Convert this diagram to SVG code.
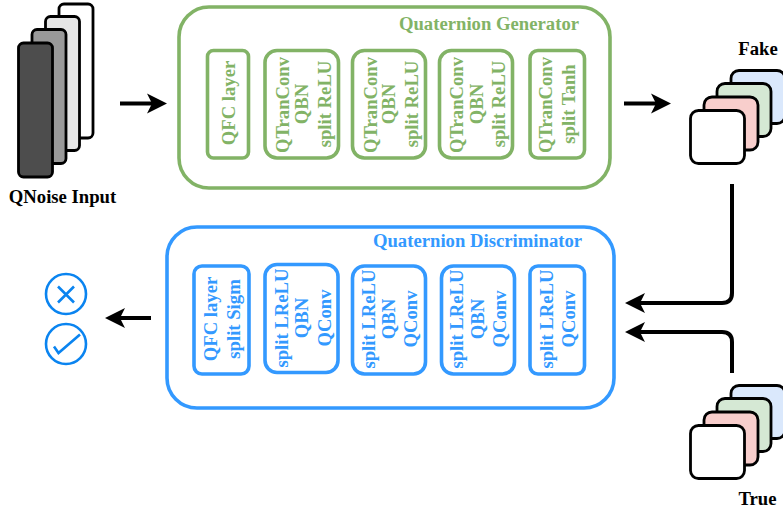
<svg xmlns="http://www.w3.org/2000/svg" width="783" height="512" viewBox="0 0 783 512">
<defs>
<style>
.k{stroke:#000;stroke-width:2.8}
.g{fill:#fff;stroke:#82b366;stroke-width:3.6}
.b{fill:#fff;stroke:#3399ff;stroke-width:3.6}
text{font-family:"Liberation Serif","Times New Roman",serif;font-weight:700;text-anchor:middle}
.gt{fill:#82b366;font-size:18.700px}
.bt{fill:#3399ff;font-size:18.700px}
.lb{fill:#000;font-size:18.700px}
.c{fill:none;stroke:#000;stroke-width:4}
.i{fill:none;stroke:#0a84f0;stroke-width:2.600}
</style>
<marker id="ah" markerUnits="userSpaceOnUse" markerWidth="22" markerHeight="22" refX="14" refY="11" orient="auto"><path d="M0 1 L20 11 L0 21 L5 11Z" fill="#000"/></marker>
</defs>
<g id="qnoise">
<rect class="k" x="59" y="4" width="34" height="134" rx="5" fill="#fff"/>
<rect class="k" x="45.500" y="16.500" width="34" height="134" rx="5" fill="#e6e6e6"/>
<rect class="k" x="32" y="29.500" width="34" height="134" rx="5" fill="#999"/>
<rect class="k" x="18.500" y="43" width="34" height="134" rx="5" fill="#4d4d4d"/>
<text class="lb" x="62.500" y="203">QNoise Input</text>
</g>
<g id="generator">
<rect class="g" x="179" y="7" width="431" height="181" rx="30"/>
<text class="gt" x="489" y="30">Quaternion Generator</text>
</g>
<g id="g1"><rect class="g" x="207.500" y="50.500" width="41" height="107.500" rx="6"/><text class="gt" transform="translate(228 103) rotate(-90)" y="7">QFC layer</text></g>
<g id="g2"><rect class="g" x="265" y="50.500" width="73.500" height="107.500" rx="12"/><text class="gt" transform="translate(301.500 104) rotate(-90)"><tspan x="-1" y="-13">QTranConv</tspan><tspan x="0" y="6">QBN</tspan><tspan x="0" y="29">split ReLU</tspan></text></g>
<g id="g3"><rect class="g" x="352.500" y="50.500" width="73" height="107.500" rx="12"/><text class="gt" transform="translate(389 104) rotate(-90)"><tspan x="-1" y="-12">QTranConv</tspan><tspan x="0" y="6">QBN</tspan><tspan x="0" y="29">split ReLU</tspan></text></g>
<g id="g4"><rect class="g" x="439.500" y="50.500" width="73" height="107.500" rx="12"/><text class="gt" transform="translate(476 104) rotate(-90)"><tspan x="-1" y="-13">QTranConv</tspan><tspan x="0" y="7">QBN</tspan><tspan x="0" y="29">split ReLU</tspan></text></g>
<g id="g5"><rect class="g" x="530" y="50.500" width="54.500" height="107.500" rx="8"/><text class="gt" transform="translate(557 104) rotate(-90)"><tspan x="-1" y="-5">QTranConv</tspan><tspan x="0" y="18">split Tanh</tspan></text></g>
<g id="fake">
<rect class="k" x="731" y="70.500" width="54" height="53" rx="8" fill="#dae8fc"/>
<rect class="k" x="717" y="83.500" width="54" height="53" rx="8" fill="#d5e8d4"/>
<rect class="k" x="704" y="97" width="54" height="53" rx="8" fill="#f8cecc"/>
<rect class="k" x="690.500" y="110.500" width="54" height="53" rx="8" fill="#fff"/>
<text class="lb" x="758" y="55">Fake</text>
</g>
<g id="discriminator">
<rect class="b" x="167" y="227" width="447" height="181" rx="30"/>
<text class="bt" x="477.500" y="247">Quaternion Discriminator</text>
</g>
<g id="d1"><rect class="b" x="194" y="266" width="55" height="108" rx="8"/><text class="bt" transform="translate(221 319) rotate(-90)"><tspan x="0" y="-4">QFC layer</tspan><tspan x="0" y="19">split Sigm</tspan></text></g>
<g id="d2"><rect class="b" x="265" y="264.500" width="73" height="108" rx="12"/><text class="bt" transform="translate(302 318) rotate(-90)"><tspan x="0" y="-14">split LReLU</tspan><tspan x="0" y="6">QBN</tspan><tspan x="0" y="29">QConv</tspan></text></g>
<g id="d3"><rect class="b" x="352.500" y="266" width="73" height="108" rx="12"/><text class="bt" transform="translate(389 319) rotate(-90)"><tspan x="0" y="-14">split LReLU</tspan><tspan x="0" y="6">QBN</tspan><tspan x="0" y="28">QConv</tspan></text></g>
<g id="d4"><rect class="b" x="441.500" y="266" width="73" height="108" rx="12"/><text class="bt" transform="translate(478 319) rotate(-90)"><tspan x="0" y="-15">split LReLU</tspan><tspan x="0" y="6">QBN</tspan><tspan x="0" y="28">QConv</tspan></text></g>
<g id="d5"><rect class="b" x="530" y="266" width="54.500" height="108" rx="8"/><text class="bt" transform="translate(557 319) rotate(-90)"><tspan x="0" y="-4">split LReLU</tspan><tspan x="0" y="18">QConv</tspan></text></g>
<g id="true">
<rect class="k" x="731" y="385.500" width="54" height="53" rx="8" fill="#dae8fc"/>
<rect class="k" x="717" y="398.500" width="54" height="53" rx="8" fill="#d5e8d4"/>
<rect class="k" x="704" y="412" width="54" height="53" rx="8" fill="#f8cecc"/>
<rect class="k" x="690.500" y="425.500" width="54" height="53" rx="8" fill="#fff"/>
<text class="lb" x="757.500" y="505">True</text>
</g>
<g id="reject"><circle class="i" cx="66" cy="294" r="20"/><path class="i" d="M58 286.500 L74 302.500 M74 286.500 L58 302.500"/></g>
<g id="accept"><circle class="i" cx="66" cy="344" r="20"/><path class="i" d="M54 346.500 L58.500 353 L80 334.500"/></g>
<g id="connectors">
<path class="c" d="M120 103.500 H161" marker-end="url(#ah)"/>
<path class="c" d="M624 103.500 H665" marker-end="url(#ah)"/>
<path class="c" d="M732 184 V293 Q732 303 722 303 H631" marker-end="url(#ah)"/>
<path class="c" d="M732 373 V342 Q732 332 722 332 H631" marker-end="url(#ah)"/>
<path class="c" d="M151 318 H111" marker-end="url(#ah)"/>
</g>
</svg>
